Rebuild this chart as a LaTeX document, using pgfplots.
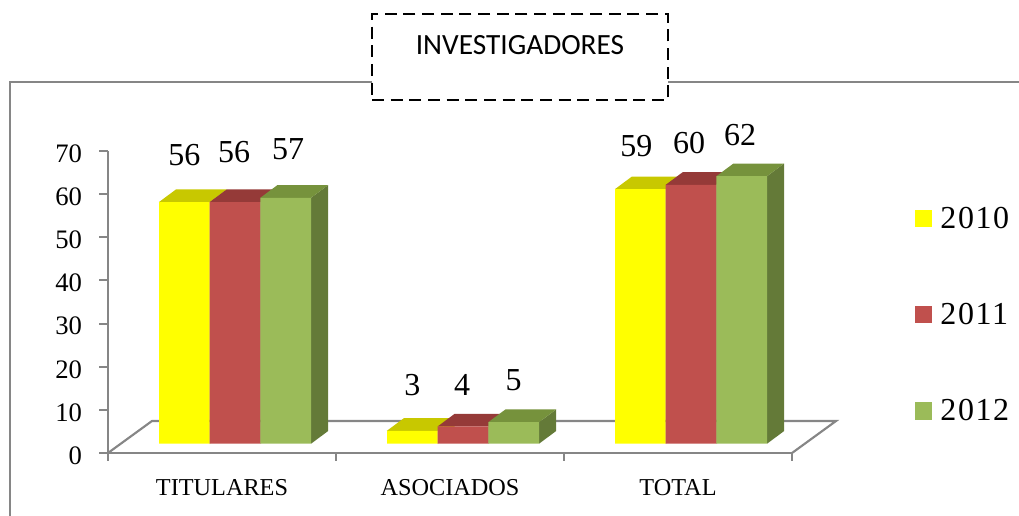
\documentclass[border=0pt]{standalone}
\usepackage{fontspec}
\setmainfont{Liberation Serif}
\newfontfamily\titlefont{Carlito}
\newfontfamily\legfont[LetterSpace=5]{Liberation Serif}
\usepackage{pgfplots}
\pgfplotsset{compat=1.18}
\usepackage{pgfplotstable}

\definecolor{gr}{HTML}{868686}
\definecolor{y1}{HTML}{FFFF00}
\definecolor{y2}{HTML}{C8C800}
\definecolor{r1}{HTML}{C0504D}
\definecolor{r2}{HTML}{953A38}
\definecolor{g1}{HTML}{9BBB59}
\definecolor{g2}{HTML}{76923C}
\definecolor{g3}{HTML}{647A38}

% x, value, label offset from the top of the bar (px)
\pgfplotstableread{
x v dx dy
0 56 0 47
1 3 0 46
2 59 -4 43
}\tA
\pgfplotstableread{
x v dx dy
0 56 -1 50
1 4 -1 41
2 60 -2 42
}\tB
\pgfplotstableread{
x v dx dy
0 57 2.5 49
1 5 0 42
2 62 -1.5 41
}\tC

% side and top faces of one bar: centre x, value, side colour, top colour
\newcommand{\barbox}[4]{%
  \pgfmathsetmacro\xa{#1-0.1112}%
  \pgfmathsetmacro\xb{#1+0.1112}%
  \pgfmathsetmacro\xc{\xa+0.0746}%
  \pgfmathsetmacro\xd{\xb+0.0746}%
  \pgfmathsetmacro\yt{#2+2.93}%
  \edef\tmp{\noexpand\addplot[draw=none,fill=#3,forget plot] coordinates {(\xb,0)(\xd,2.93)(\xd,\yt)(\xb,#2)} --cycle;
    \noexpand\addplot[draw=none,fill=#4,forget plot] coordinates {(\xa,#2)(\xc,\yt)(\xd,\yt)(\xb,#2)} --cycle;}%
  \tmp}

\pgfplotsset{
  legsq/.style={legend image code/.code={\fill[##1,draw=none] (0pt,-6.4pt) rectangle (12.8pt,6.4pt);}},
  vals/.style={
    ybar, bar width=38pt, bar shift=#1, draw=none, legsq,
    nodes near coords,
    visualization depends on={\thisrow{dx}\as\dx},
    visualization depends on={\thisrow{dy}\as\dy},
    every node near coord/.append style={anchor=center, inner sep=0pt, text=black,
      font=\fontsize{24}{24}\selectfont, xshift=#1+\dx*0.75pt, yshift=\dy*0.75pt},
  },
  frameaxis/.style={
    scale only axis, width=513pt, height=226.5pt,
    xmin=-0.5, xmax=2.5, ymin=0, ymax=70, clip=false,
  },
}

\begin{document}
\begin{tikzpicture}[x=0.75pt,y=0.75pt]
\useasboundingbox (0,0) rectangle (1019,516);

% outer frame, open at the bottom
\draw[gr,line width=2pt] (10,0) -- (10,434) -- (1019,434);

% floor
\draw[gr,line width=1.6pt] (108,63) -- (152,95) -- (836,95) -- (792,63);

\begin{axis}[frameaxis,
    at={(81pt,47.25pt)}, anchor=south west,
    axis x line*=bottom, axis y line*=left,
    axis line style={gr,line width=1.6pt},
    xtick={0,1,2}, xticklabels={TITULARES,ASOCIADOS,TOTAL},
    minor xtick={-0.5,0.5,1.5,2.5},
    ytick={0,10,...,70},
    tick align=outside,
    major x tick style={draw=none},
    minor x tick style={gr,line width=1.6pt},
    y tick style={gr,line width=1.6pt},
    minor tick length=6pt, major tick length=6.5pt,
    /pgf/number format/assume math mode=true,
    x tick label style={font=\fontsize{18.2}{18.2}\selectfont, yshift=-10pt},
    y tick label style={font=\fontsize{20}{20}\selectfont, xshift=-9.5pt, yshift=-2pt},
]
\end{axis}

\begin{axis}[frameaxis,
    at={(90.75pt,54.225pt)}, anchor=south west,
    hide axis,
    /pgf/number format/assume math mode=true,
    legend style={at={(1.161,0.784)}, anchor=north west, draw=none, fill=none,
      inner sep=0pt, font=\legfont\fontsize{24}{24}\selectfont,
      row sep=54.6pt, nodes={inner sep=0pt},
      /tikz/every odd column/.append style={column sep=6pt}},
    legend cell align=left,
]
\barbox{-0.2224}{56}{y2}{y2}
\barbox{0.7776}{3}{y2}{y2}
\barbox{1.7776}{59}{y2}{y2}
\addplot[vals=-38pt, fill=y1] table[x=x,y=v] {\tA};
\barbox{0}{56}{r2}{r2}
\barbox{1}{4}{r2}{r2}
\barbox{2}{60}{r2}{r2}
\addplot[vals=0pt, fill=r1] table[x=x,y=v] {\tB};
\barbox{0.2224}{57}{g3}{g2}
\barbox{1.2224}{5}{g3}{g2}
\barbox{2.2224}{62}{g3}{g2}
\addplot[vals=38pt, fill=g1] table[x=x,y=v] {\tC};
\legend{2010,2011,2012}
\end{axis}

% title box
\node[draw=black, fill=white, line width=1.9pt, dash pattern=on 9pt off 5pt,
  minimum width=222pt, minimum height=64.5pt, inner sep=0pt, anchor=center]
  at (520,459) {};
\node[font=\titlefont\fontsize{22}{22}\selectfont, anchor=center] at (520,471) {INVESTIGADORES};
\end{tikzpicture}
\end{document}
